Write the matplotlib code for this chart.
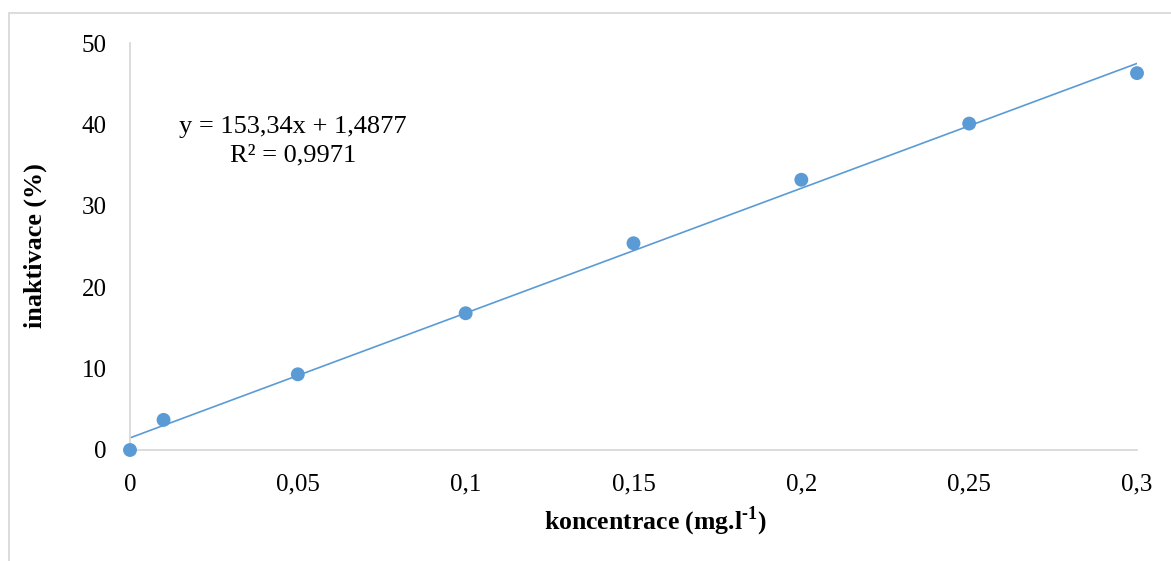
import matplotlib
matplotlib.use("Agg")
import matplotlib.pyplot as plt
from matplotlib.patches import Rectangle
import numpy as np

plt.rcParams['font.family'] = ['Liberation Serif', 'DejaVu Serif']
plt.rcParams['mathtext.fontset'] = 'custom'
plt.rcParams['mathtext.rm'] = 'Liberation Serif:bold'
plt.rcParams['mathtext.bf'] = 'Liberation Serif:bold'

concentration = [0, 0.01, 0.05, 0.1, 0.15, 0.2, 0.25, 0.3]
inactivation = [0.0, 3.7, 9.3, 16.8, 25.4, 33.2, 40.1, 46.3]
slope = 153.34
intercept = 1.4877
x_ticks = [0, 0.05, 0.1, 0.15, 0.2, 0.25, 0.3]
x_tick_labels = ['0', '0,05', '0,1', '0,15', '0,2', '0,25', '0,3']
y_ticks = [0, 10, 20, 30, 40, 50]

W, H = 1171, 561
fig = plt.figure(figsize=(W / 100, H / 100), dpi=100)
ax = fig.add_axes([130 / W, 1 - 450 / H, (1137 - 130) / W, (450 - 43) / H])

color = '#5B9BD5'
xs = np.array([0, 0.3])
ax.plot(xs, slope * xs + intercept, color=color, lw=1.2, zorder=2)
ax.scatter(concentration, inactivation, s=100, color=color, zorder=3, clip_on=False, edgecolors='none')

ax.set_xlim(0, 0.3)
ax.set_ylim(0, 50)
ax.set_xticks(x_ticks)
ax.set_xticklabels(x_tick_labels)
ax.set_yticks(y_ticks)
ax.tick_params(length=0, labelsize=18)
ax.tick_params(axis='x', pad=17)
ax.tick_params(axis='y', pad=17)
for s in ['top', 'right']:
    ax.spines[s].set_visible(False)
for s in ['left', 'bottom']:
    ax.spines[s].set_color('#D9D9D9')
    ax.spines[s].set_linewidth(1.3)

fig.text(655 / W, 1 - 521 / H, r'koncentrace (mg.l$^{\text{-}\mathbf{1}}$)', ha='center', va='center',
         fontsize=18.5, fontweight='bold')
fig.text(35 / W, 1 - 246 / H, 'inaktivace (%)', ha='center', va='center', rotation=90,
         fontsize=18.8, fontweight='bold')

fig.text(293 / W, 1 - 127 / H, 'y = 153,34x + 1,4877', ha='center', va='center', fontsize=19)
fig.text(293 / W, 1 - 155 / H, 'R² = 0,9971', ha='center', va='center', fontsize=19)

fig.patches.append(Rectangle((9 / W, -0.1), 1.2, 1 - 13 / H + 0.1, transform=fig.transFigure,
                             fill=False, edgecolor='#D9D9D9', lw=1.3))

fig.savefig('out.png', dpi=100)
